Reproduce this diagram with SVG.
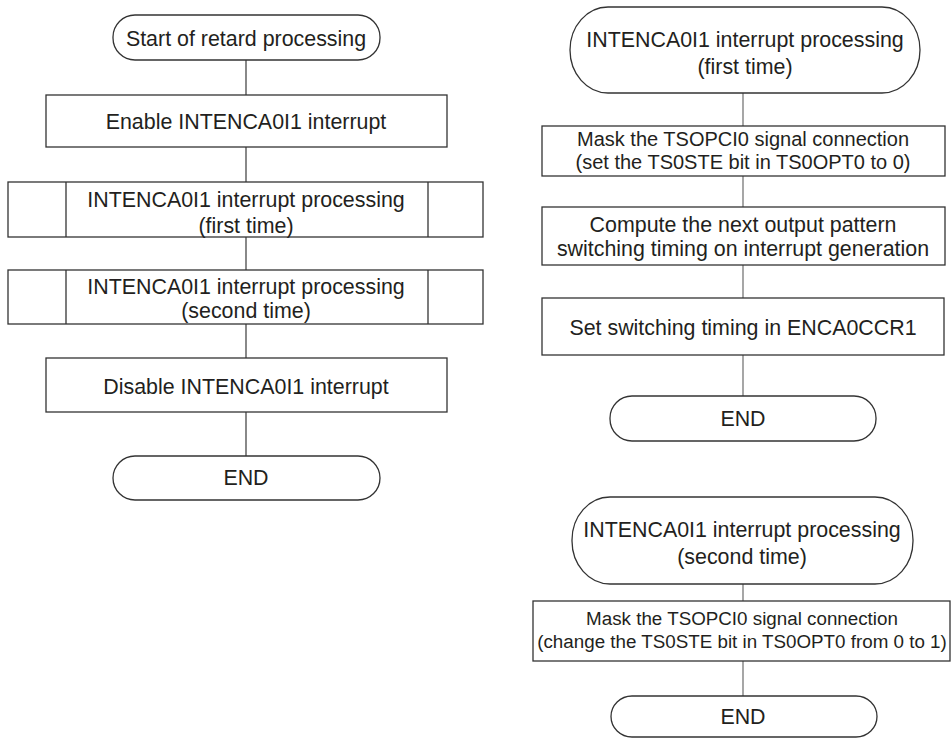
<svg xmlns="http://www.w3.org/2000/svg" width="952" height="738" viewBox="0 0 952 738">
<style>
.s{fill:#fff;stroke:#333;stroke-width:1.3}
.t{font-family:"Liberation Sans",Arial,sans-serif;font-size:21.4px;fill:#231f20;text-anchor:middle}
.md{font-size:20px}
.sm{font-size:18.8px}
.c{stroke:#3a3a3a;stroke-width:1.2;fill:none}
.cr{stroke:#777;stroke-width:1.3;fill:none}
</style>
<rect width="952" height="738" fill="#fff"/>
<g id="connectors">
<line class="c" x1="246" y1="60" x2="246" y2="95"/>
<line class="c" x1="246" y1="147" x2="246" y2="182"/>
<line class="c" x1="246" y1="237" x2="246" y2="270"/>
<line class="c" x1="246" y1="324" x2="246" y2="358"/>
<line class="c" x1="246" y1="412" x2="246" y2="456"/>
<line class="cr" x1="743" y1="93" x2="743" y2="126"/>
<line class="cr" x1="743" y1="176" x2="743" y2="207"/>
<line class="cr" x1="743" y1="265" x2="743" y2="298"/>
<line class="cr" x1="743" y1="355" x2="743" y2="396"/>
<line class="cr" x1="743" y1="584" x2="743" y2="601"/>
<line class="cr" x1="743" y1="661" x2="743" y2="696"/>
</g>
<g id="start">
<rect class="s" x="113" y="15" width="267" height="45" rx="22" ry="22"/>
<text class="t" x="246" y="46">Start of retard processing</text>
</g>
<g id="enable">
<rect class="s" x="46" y="95" width="401" height="52"/>
<text class="t" x="246" y="128.5">Enable INTENCA0I1 interrupt</text>
</g>
<g id="proc1">
<rect class="s" x="8" y="182" width="475" height="55"/>
<line class="s" x1="66" y1="182" x2="66" y2="237"/>
<line class="s" x1="428" y1="182" x2="428" y2="237"/>
<text class="t" x="246" y="207">INTENCA0I1 interrupt processing</text>
<text class="t" x="246" y="233">(first time)</text>
</g>
<g id="proc2">
<rect class="s" x="8" y="270" width="475" height="54"/>
<line class="s" x1="66" y1="270" x2="66" y2="324"/>
<line class="s" x1="428" y1="270" x2="428" y2="324"/>
<text class="t" x="246" y="294">INTENCA0I1 interrupt processing</text>
<text class="t" x="246" y="318">(second time)</text>
</g>
<g id="disable">
<rect class="s" x="46" y="358" width="401" height="54"/>
<text class="t" x="246" y="394">Disable INTENCA0I1 interrupt</text>
</g>
<g id="end-left">
<rect class="s" x="113" y="456" width="267" height="44" rx="22" ry="22"/>
<text class="t" x="246" y="485">END</text>
</g>
<g id="int1">
<rect class="s" x="570" y="7" width="350" height="86" rx="38" ry="43"/>
<text class="t" x="745" y="46.5">INTENCA0I1 interrupt processing</text>
<text class="t" x="745" y="73.5">(first time)</text>
</g>
<g id="mask1">
<rect class="s" x="542" y="126" width="403" height="50"/>
<text class="t md" x="743" y="146">Mask the TSOPCI0 signal connection</text>
<text class="t md" x="743" y="169">(set the TS0STE bit in TS0OPT0 to 0)</text>
</g>
<g id="compute">
<rect class="s" x="542" y="207" width="403" height="58"/>
<text class="t" x="743" y="231.5">Compute the next output pattern</text>
<text class="t" x="743" y="256">switching timing on interrupt generation</text>
</g>
<g id="setccr">
<rect class="s" x="542" y="298" width="402" height="57"/>
<text class="t" x="743" y="334.5">Set switching timing in ENCA0CCR1</text>
</g>
<g id="end1">
<rect class="s" x="610" y="396" width="266" height="45" rx="22" ry="22"/>
<text class="t" x="743" y="426">END</text>
</g>
<g id="int2">
<rect class="s" x="572" y="497" width="341" height="87" rx="38" ry="43"/>
<text class="t" x="742" y="537">INTENCA0I1 interrupt processing</text>
<text class="t" x="742" y="564">(second time)</text>
</g>
<g id="mask2">
<rect class="s" x="533" y="601" width="417" height="60"/>
<text class="t sm" x="742" y="625">Mask the TSOPCI0 signal connection</text>
<text class="t sm" x="742" y="648">(change the TS0STE bit in TS0OPT0 from 0 to 1)</text>
</g>
<g id="end2">
<rect class="s" x="611" y="696" width="266" height="41" rx="21" ry="20.5"/>
<text class="t" x="743" y="724">END</text>
</g>
</svg>
